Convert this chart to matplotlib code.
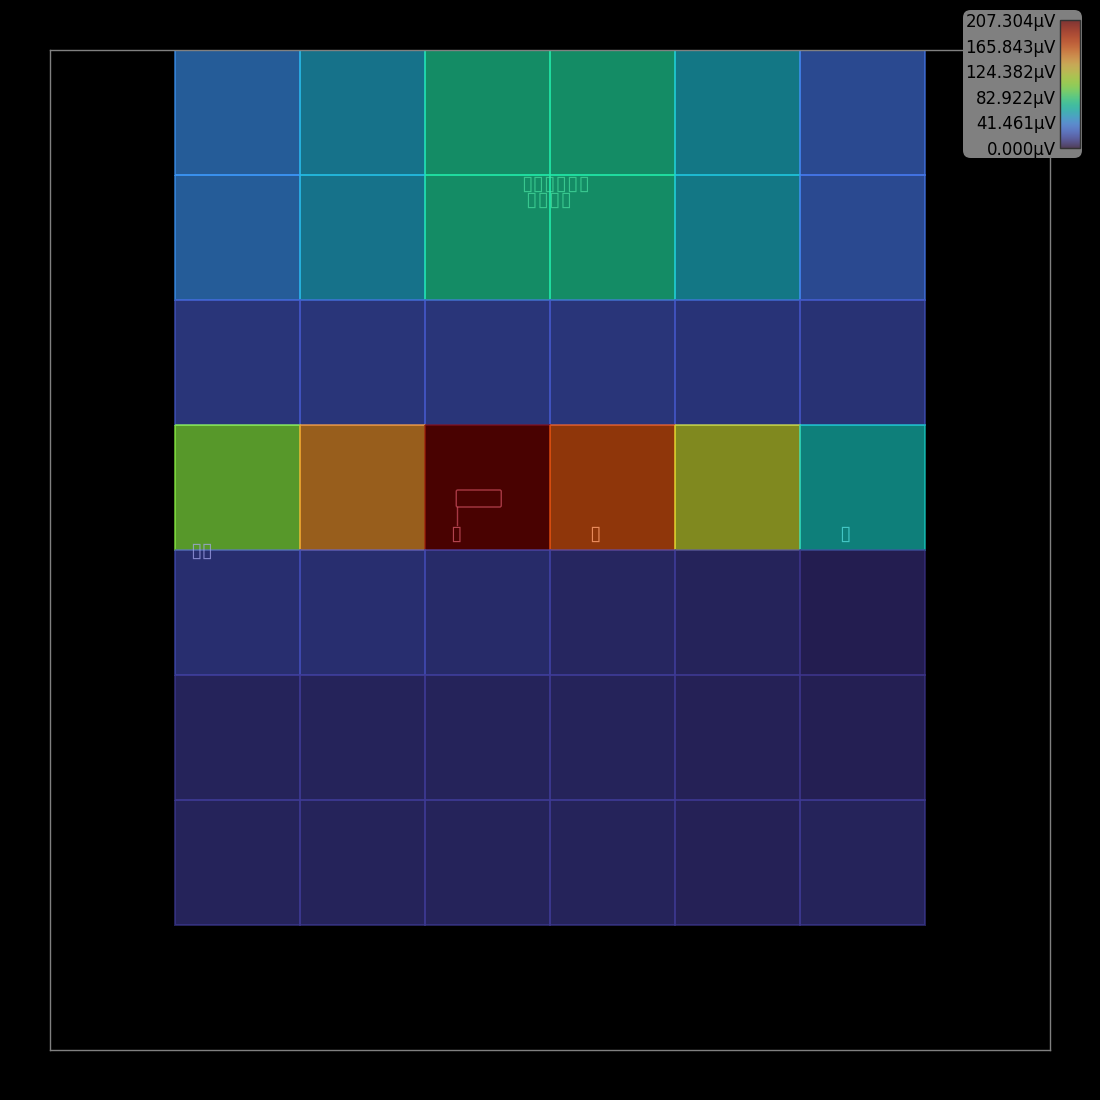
import numpy as np
import matplotlib.pyplot as plt
from matplotlib.patches import FancyBboxPatch

# cell values in microvolts, rows from top to bottom
row_labels = ["r1", "r2", "r3", "r4", "r5", "r6", "r7"]
col_labels = ["c1", "c2", "c3", "c4", "c5", "c6"]
values = np.array([
    [42.0, 54.0, 73.5, 73.5, 56.0, 31.1],
    [42.0, 54.0, 73.5, 73.5, 56.0, 31.1],
    [20.7, 20.7, 20.7, 20.7, 19.7, 18.7],
    [99.5, 147.2, 207.304, 165.8, 120.2, 62.2],
    [17.6, 17.6, 15.5, 13.5, 11.4, 9.3],
    [11.4, 11.4, 11.4, 11.4, 11.0, 10.4],
    [11.4, 11.4, 11.4, 11.4, 11.0, 11.4],
])
vmax = 207.304
tick_values = np.linspace(0, vmax, 6)

fig = plt.figure(figsize=(11, 11), dpi=100, facecolor="black")
ax = fig.add_axes([50 / 1100, 50 / 1100, 1000 / 1100, 1000 / 1100])
ax.set_facecolor("black")

xedges = np.arange(1, len(col_labels) + 2)
yedges = np.arange(0, len(row_labels) + 1)
mesh = ax.pcolormesh(xedges, yedges, values, cmap="turbo", vmin=0, vmax=vmax,
                     alpha=0.6, edgecolors="face", linewidth=1.2)
ax.set_xlim(0, 8)
ax.set_ylim(8, 0)
ax.set_xticks([])
ax.set_yticks([])
for s in ax.spines.values():
    s.set_color("#808080")
    s.set_linewidth(1)

# labels whose glyphs show up as empty boxes
box_fs = 15
ax.text(4.045, 1.136, "▯▯▯▯▯▯\n▯▯▯▯  ", color="#48e0a0", alpha=0.7, fontsize=box_fs,
        ha="center", va="center", multialignment="center", linespacing=0.75)
ax.text(1.212, 4.004, "▯▯", color="#a8a8f0", alpha=0.7, fontsize=box_fs,
        ha="center", va="center")
ax.text(3.248, 3.868, "▯", color="#e06070", alpha=0.7, fontsize=box_fs,
        ha="center", va="center")
ax.text(4.36, 3.868, "▯", color="#ffa070", alpha=0.8, fontsize=box_fs,
        ha="center", va="center")
ax.text(6.356, 3.868, "▯", color="#50d8d8", alpha=0.8, fontsize=box_fs,
        ha="center", va="center")
ax.add_patch(FancyBboxPatch((3.25, 3.52), 0.36, 0.136,
                            boxstyle="round,pad=0,rounding_size=0.012",
                            facecolor="none", edgecolor="#d05060", lw=1, alpha=0.7))
ax.plot([3.256, 3.256], [3.656, 3.8], color="#d05060", lw=1, alpha=0.7)

# colour legend box in the top right corner
fig.patches.append(FancyBboxPatch((963 / 1100, 942 / 1100), 119 / 1100, 148 / 1100,
                                  boxstyle="round,pad=0,rounding_size=0.007",
                                  transform=fig.transFigure, facecolor="#808080",
                                  edgecolor="none", zorder=5))
cax = fig.add_axes([1060 / 1100, 952 / 1100, 20 / 1100, 128 / 1100], zorder=6)
cax.set_facecolor("#808080")
cb = fig.colorbar(mesh, cax=cax, ticks=tick_values)
cb.outline.set_edgecolor("#333333")
cb.outline.set_linewidth(1)
cax.yaxis.set_ticks_position("left")
cax.tick_params(length=0, pad=3, labelsize=12, colors="black")
cax.set_yticklabels([f"{v:.3f}µV" for v in tick_values])

fig.savefig("out.png", dpi=100, facecolor="black")
